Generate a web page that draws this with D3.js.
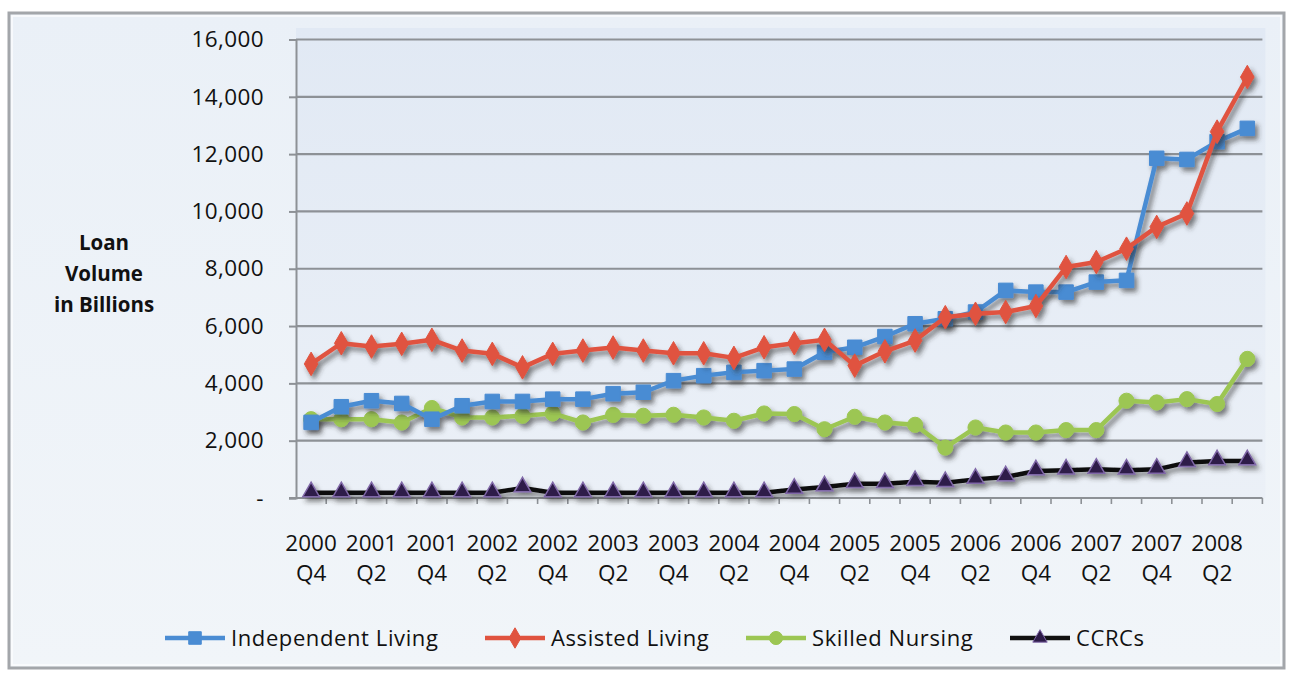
<!DOCTYPE html>
<html><head><meta charset="utf-8">
<script src="https://cdn.jsdelivr.net/npm/d3@7/dist/d3.min.js"></script>
<style>
body{margin:0;background:#ffffff;}
svg{display:block;font-family:"Open Sans","DejaVu Sans",sans-serif;}
</style>
</head><body>
<svg id="chart" width="1291" height="673"></svg>
<script>
// ---------- data ----------
const categories = [
  "2000 Q4","2001 Q1","2001 Q2","2001 Q3","2001 Q4","2002 Q1","2002 Q2","2002 Q3",
  "2002 Q4","2003 Q1","2003 Q2","2003 Q3","2003 Q4","2004 Q1","2004 Q2","2004 Q3",
  "2004 Q4","2005 Q1","2005 Q2","2005 Q3","2005 Q4","2006 Q1","2006 Q2","2006 Q3",
  "2006 Q4","2007 Q1","2007 Q2","2007 Q3","2007 Q4","2008 Q1","2008 Q2","2008 Q3"
];
const tickLabels = [
  "2000 Q4","2001 Q2","2001 Q4","2002 Q2","2002 Q4","2003 Q2","2003 Q4","2004 Q2",
  "2004 Q4","2005 Q2","2005 Q4","2006 Q2","2006 Q4","2007 Q2","2007 Q4","2008 Q2"
];
const yTicks = [0,2000,4000,6000,8000,10000,12000,14000,16000];

const independentLiving = [2640,3185,3395,3300,2750,3220,3370,3370,3450,3450,3640,3690,4095,4270,4385,4445,
                           4500,5085,5260,5635,6080,6255,6490,7245,7185,7185,7535,7595,11855,11815,12435,12900];
const assistedLiving    = [4680,5400,5285,5380,5520,5145,5030,4560,5030,5145,5250,5145,5050,5050,4890,5260,
                           5400,5520,4620,5120,5495,6310,6430,6490,6700,8060,8235,8700,9460,9930,12785,14690];
const skilledNursing    = [2750,2750,2750,2635,3140,2810,2810,2870,2950,2635,2900,2870,2905,2810,2695,2950,
                           2930,2400,2835,2635,2555,1760,2460,2285,2285,2370,2370,3395,3335,3450,3280,4855];
const ccrcs             = [180,180,180,180,180,180,180,350,180,180,180,180,180,180,180,180,
                           300,385,500,500,570,535,650,735,945,970,1000,970,1000,1235,1295,1295];

const seriesNames = ["Independent Living","Assisted Living","Skilled Nursing","CCRCs"];
const seriesValues = [independentLiving, assistedLiving, skilledNursing, ccrcs];

// ---------- styles ----------
const lineColors   = ["#4a8cd3","#e0533f","#9cc653","#111111"];
const markerFills  = ["#4a8cd3","#e0533f","#9cc653","#2d1b48"];
const markerStroke = ["#4a8cd3","#e0533f","#9cc653","#8068a8"];
const markerTypes  = [d3.symbolSquare, d3.symbolDiamond, d3.symbolCircle, d3.symbolTriangle];
const markerSizes  = [210, 160, 180, 120];

const svg = d3.select("#chart");
const defs = svg.append("defs");

const sh = defs.append("filter").attr("id","shadow").attr("x","-10%").attr("y","-10%").attr("width","130%").attr("height","140%");
sh.append("feDropShadow").attr("dx",3).attr("dy",4).attr("stdDeviation",2.6)
  .attr("flood-color","#2a2a2a").attr("flood-opacity",0.6);

const bgGrad = defs.append("linearGradient").attr("id","bg").attr("x1",0).attr("y1",0).attr("x2",0).attr("y2",1);
bgGrad.append("stop").attr("offset","0%").attr("stop-color","#eaf0f7");
bgGrad.append("stop").attr("offset","100%").attr("stop-color","#f1f5f9");

const plotGrad = defs.append("linearGradient").attr("id","plotbg").attr("x1",0).attr("y1",0).attr("x2",0).attr("y2",1);
plotGrad.append("stop").attr("offset","0%").attr("stop-color","#e1e9f4");
plotGrad.append("stop").attr("offset","100%").attr("stop-color","#ebf0f7");

// outer frame
svg.append("rect").attr("x",9).attr("y",13).attr("width",1275).attr("height",655)
  .attr("fill","url(#bg)").attr("stroke","#a3a6aa").attr("stroke-width",3);
svg.append("rect").attr("x",12).attr("y",16).attr("width",1269).attr("height",649)
  .attr("fill","none").attr("stroke","#ffffff").attr("stroke-width",1.5).attr("opacity",0.8);

// ---------- scales ----------
const plotLeft = 296, plotRight = 1262.4, plotTop = 39.5, plotBottom = 498;
const x = d3.scaleBand().domain(categories).range([plotLeft, plotRight]).padding(0);
const bw = x.bandwidth();
const cx = c => x(c) + bw / 2;
const y = d3.scaleLinear().domain([0,16000]).range([plotBottom, plotTop]);

// plot area
svg.append("rect").attr("x",plotLeft).attr("y",28).attr("width",plotRight - plotLeft + 3).attr("height",plotBottom - 28)
  .attr("fill","url(#plotbg)");

// gridlines
svg.append("g").selectAll("line").data(yTicks.filter(d => d > 0)).join("line")
  .attr("x1",plotLeft).attr("x2",plotRight).attr("y1",d => y(d)).attr("y2",d => y(d))
  .attr("stroke","#8d9196").attr("stroke-width",2.2);

// y axis
const yAxis = svg.append("g").attr("transform",`translate(${plotLeft},0)`)
  .call(d3.axisLeft(y).tickValues(yTicks).tickSize(7).tickPadding(25)
    .tickFormat(d => d === 0 ? "-" : d3.format(",")(d)));
yAxis.select(".domain").attr("stroke","#8d9196").attr("stroke-width",2);
yAxis.selectAll(".tick line").attr("stroke","#8d9196").attr("stroke-width",2);
yAxis.selectAll(".tick text").attr("font-size",22.5).attr("fill","#111").attr("font-weight",500)
  .attr("letter-spacing","0.4px").attr("font-family","'Open Sans',sans-serif");

// x axis line + ticks at category boundaries
svg.append("line").attr("x1",plotLeft - 7).attr("x2",plotRight).attr("y1",plotBottom).attr("y2",plotBottom)
  .attr("stroke","#8d9196").attr("stroke-width",2);
svg.append("g").selectAll("line").data(categories).join("line")
  .attr("x1",d => x(d) + bw).attr("x2",d => x(d) + bw)
  .attr("y1",plotBottom).attr("y2",plotBottom + 6)
  .attr("stroke","#8d9196").attr("stroke-width",1.6);

// x labels (two lines)
const xl = svg.append("g").selectAll("text").data(tickLabels).join("text")
  .attr("text-anchor","middle").attr("font-size",22.5).attr("font-weight",500).attr("fill","#111");
xl.append("tspan").attr("x",d => cx(d)).attr("y",551).text(d => d.split(" ")[0]);
xl.append("tspan").attr("x",d => cx(d)).attr("y",581).text(d => d.split(" ")[1]);

// y title
const yt = svg.append("text").attr("text-anchor","middle").attr("font-size",20.5).attr("font-weight","bold").attr("fill","#111");
["Loan","Volume","in Billions"].forEach((t,i) => yt.append("tspan").attr("x",104).attr("y",250 + i*31).text(t));

// ---------- series ----------
const line = d3.line().x((d,i) => cx(categories[i])).y(d => y(d));
const order = [2,0,1,3];
order.forEach(s => {
  const g = svg.append("g").attr("filter","url(#shadow)");
  g.append("path").datum(seriesValues[s]).attr("d",line)
    .attr("fill","none").attr("stroke",lineColors[s]).attr("stroke-width",4.5)
    .attr("stroke-linejoin","round");
  g.selectAll("path.m").data(seriesValues[s]).join("path").attr("class","m")
    .attr("transform",(d,i) => `translate(${cx(categories[i])},${y(d) - (s===3?1:0)})`)
    .attr("d",d3.symbol().type(markerTypes[s]).size(markerSizes[s]))
    .attr("fill",markerFills[s]).attr("stroke",markerStroke[s]).attr("stroke-width",s===3?1.5:1);
});

// ---------- legend ----------
const legendX = [165, 485, 746, 1010];
const leg = svg.append("g");
seriesNames.forEach((n,s) => {
  const g = leg.append("g").attr("transform",`translate(${legendX[s]},638)`);
  g.append("line").attr("x1",0).attr("x2",60).attr("y1",0).attr("y2",0)
    .attr("stroke",lineColors[s]).attr("stroke-width",4.5);
  g.append("path").attr("transform","translate(30,0)")
    .attr("d",d3.symbol().type(markerTypes[s]).size(markerSizes[s]*0.75))
    .attr("fill",markerFills[s]).attr("stroke",markerStroke[s]).attr("stroke-width",1);
  g.append("text").attr("x",66).attr("y",8).attr("font-size",22).attr("font-weight",500)
    .attr("letter-spacing","0.6px").attr("fill","#111").text(n);
});
</script>
</body></html>
